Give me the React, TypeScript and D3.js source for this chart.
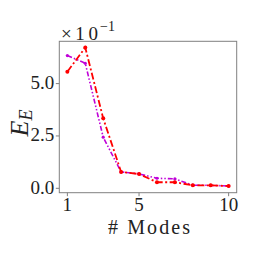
import * as d3 from "d3";

const modes = [1, 2, 3, 4, 5, 6, 7, 8, 9, 10];
const redSeries = [5.57, 6.72, 3.34, 0.78, 0.68, 0.29, 0.29, 0.14, 0.14, 0.11];
const magentaSeries = [6.34, 5.97, 2.44, 0.78, 0.69, 0.48, 0.45, 0.15, 0.14, 0.11];
const xTicks = [1, 5, 10];
const yTicks = [0, 2.5, 5.0];

const font = "'Liberation Serif', serif";

export default function App() {
  const left = 59.3, right = 236.7, top = 41.3, bottom = 192.7;
  const x = d3.scaleLinear().domain([0.55, 10.45]).range([left, right]);
  const y = d3.scaleLinear().domain([-0.21, 7.02]).range([bottom, top]);
  const line = d3
    .line<number>()
    .x((_, i) => x(modes[i]))
    .y((d) => y(d));

  return (
    <svg
      width={262}
      height={262}
      style={{ position: "absolute", left: 0, top: 0, background: "white", fontFamily: font }}
    >
      <rect
        x={left}
        y={top}
        width={right - left}
        height={bottom - top}
        fill="none"
        stroke="#808080"
        strokeWidth={1}
      />
      {xTicks.map((t) => (
        <g key={"x" + t}>
          <line x1={x(t)} x2={x(t)} y1={bottom} y2={bottom + 3.5} stroke="#808080" />
          <text x={x(t)} y={210.7} textAnchor="middle" fontSize={19} fill="#222">
            {t}
          </text>
        </g>
      ))}
      {yTicks.map((t) => (
        <g key={"y" + t}>
          <line x1={left - 3.5} x2={left} y1={y(t)} y2={y(t)} stroke="#808080" />
          <text x={left - 5} y={y(t) + 5.5} textAnchor="end" fontSize={19} fill="#222">
            {t.toFixed(1)}
          </text>
        </g>
      ))}
      <text x={61} y={40} fontSize={19} fill="#222" textLength={37} lengthAdjust="spacing">
        ×10
      </text>
      <text x={100} y={31} fontSize={14} fill="#222">
        −1
      </text>
      <text
        x={149}
        y={234}
        textAnchor="middle"
        fontSize={20}
        fill="#222"
        textLength={82}
        lengthAdjust="spacing"
      >
        # Modes
      </text>
      <text
        transform="translate(28,123) rotate(-90)"
        textAnchor="middle"
        fontStyle="italic"
        fontSize={26}
        fill="#222"
      >
        E
        <tspan fontSize={18} dy={4}>
          E
        </tspan>
      </text>
      <path
        d={line(magentaSeries) ?? ""}
        fill="none"
        stroke="#c000d8"
        strokeWidth={1.6}
        strokeDasharray="5 2 1.5 2 1.5 2"
      />
      {magentaSeries.map((v, i) => (
        <circle key={"m" + i} cx={x(modes[i])} cy={y(v)} r={1.6} fill="#c000d8" />
      ))}
      <path
        d={line(redSeries) ?? ""}
        fill="none"
        stroke="#ff0000"
        strokeWidth={1.8}
        strokeDasharray="7 2.5 2 2.5"
      />
      {redSeries.map((v, i) => (
        <circle key={"r" + i} cx={x(modes[i])} cy={y(v)} r={2} fill="#ff0000" />
      ))}
    </svg>
  );
}
